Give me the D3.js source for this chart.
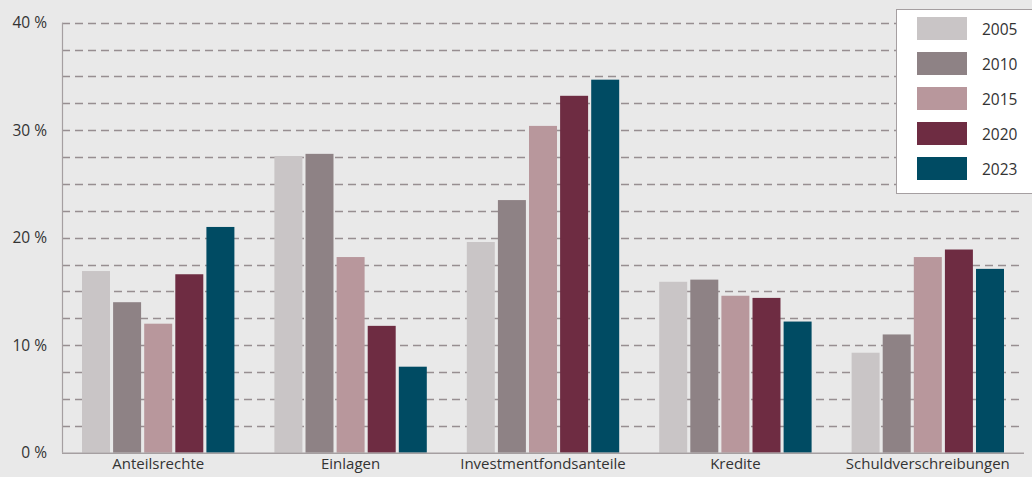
<!DOCTYPE html>
<html>
<head>
<meta charset="utf-8">
<script src="https://cdn.jsdelivr.net/npm/d3@7"></script>
<style>
  html, body { margin: 0; padding: 0; background: #e9e9e9; }
  svg { display: block; }
  text { font-family: "Open Sans", "Noto Sans", sans-serif; fill: #333; }
</style>
</head>
<body>
<svg id="chart" width="1032" height="477"></svg>
<script>
// Categories of financial assets
const categories = ["Anteilsrechte", "Einlagen", "Investmentfondsanteile", "Kredite", "Schuldverschreibungen"];
const years = ["2005", "2010", "2015", "2020", "2023"];

// Shares in percent per year, in category order
const v2005 = [16.9, 27.6, 19.6, 15.9, 9.3];
const v2010 = [14.0, 27.8, 23.5, 16.1, 11.0];
const v2015 = [12.0, 18.2, 30.4, 14.6, 18.2];
const v2020 = [16.6, 11.8, 33.2, 14.4, 18.9];
const v2023 = [21.0, 8.0, 34.7, 12.2, 17.1];
const seriesValues = [v2005, v2010, v2015, v2020, v2023];

const colors = ["#c9c5c6", "#8e8285", "#b8979c", "#6e2c42", "#004b63"];
const yTicks = [0, 10, 20, 30, 40];
const gridTicks = d3.range(2.5, 40.01, 2.5);

const svg = d3.select("#chart");
const margin = { left: 62, right: 8, top: 22.7, bottom: 24.3 };
const W = 1032, H = 477;

const x0 = d3.scaleBand()
  .domain(categories)
  .range([margin.left, W - margin.right])
  .paddingInner(0)
  .paddingOuter(0);

const groupPad = 20;
const x1 = d3.scaleBand()
  .domain(years)
  .range([groupPad, x0.bandwidth() - groupPad])
  .paddingInner(0.1);

const y = d3.scaleLinear()
  .domain([0, 40])
  .range([H - margin.bottom, margin.top]);

// Dashed grid lines
svg.append("g")
  .selectAll("line")
  .data(gridTicks)
  .join("line")
  .attr("x1", margin.left)
  .attr("x2", W - margin.right)
  .attr("y1", d => Math.round(y(d)) + 0.5)
  .attr("y2", d => Math.round(y(d)) + 0.5)
  .attr("stroke", "#978e91")
  .attr("stroke-width", 1.4)
  .attr("stroke-dasharray", "8,5");

// Bars
const groups = svg.append("g")
  .selectAll("g")
  .data(categories)
  .join("g")
  .attr("transform", d => `translate(${x0(d)},0)`);

groups.selectAll("rect")
  .data((c, i) => years.map((yr, j) => ({ yr, j, v: seriesValues[j][i] })))
  .join("rect")
  .attr("x", d => x1(d.yr))
  .attr("width", x1.bandwidth())
  .attr("y", d => y(d.v))
  .attr("height", d => y(0) - y(d.v))
  .attr("fill", d => colors[d.j]);

// Axes lines
svg.append("line")
  .attr("x1", margin.left + 0.5).attr("x2", margin.left + 0.5)
  .attr("y1", y(40)).attr("y2", y(0))
  .attr("stroke", "#a59fa1").attr("stroke-width", 1.2);
svg.append("line")
  .attr("x1", margin.left).attr("x2", W - margin.right)
  .attr("y1", y(0) + 0.5).attr("y2", y(0) + 0.5)
  .attr("stroke", "#a59fa1").attr("stroke-width", 1.5);

// Y tick labels
const yAxis = d3.axisLeft(y).tickValues(yTicks).tickSize(0).tickPadding(15)
  .tickFormat(d => d + " %");
svg.append("g")
  .attr("transform", `translate(${margin.left},0)`)
  .call(yAxis)
  .call(g => g.select(".domain").remove())
  .selectAll("text")
  .style("font-family", "'Open Sans', sans-serif")
  .style("font-size", "15.5px")
  .attr("fill", "#333");

// X category labels
const xAxis = d3.axisBottom(x0).tickSize(0).tickPadding(6);
svg.append("g")
  .attr("transform", `translate(0,${y(0)})`)
  .call(xAxis)
  .call(g => g.select(".domain").remove())
  .selectAll("text")
  .style("font-family", "'Open Sans', sans-serif")
  .style("font-size", "15px")
  .attr("fill", "#333");

// Legend
const legend = svg.append("g");
legend.append("rect")
  .attr("x", 896.5).attr("y", 9.5)
  .attr("width", 140).attr("height", 184)
  .attr("fill", "#ffffff")
  .attr("stroke", "#a59fa1").attr("stroke-width", 1);

const items = legend.selectAll("g.item")
  .data(years)
  .join("g")
  .attr("class", "item")
  .attr("transform", (d, i) => `translate(917,${17 + i * 35})`);
items.append("rect")
  .attr("width", 50).attr("height", 23)
  .attr("fill", (d, i) => colors[i]);
items.append("text")
  .attr("x", 65).attr("y", 17.5)
  .style("font-size", "15.5px")
  .attr("fill", "#333")
  .text(d => d);
</script>
</body>
</html>
